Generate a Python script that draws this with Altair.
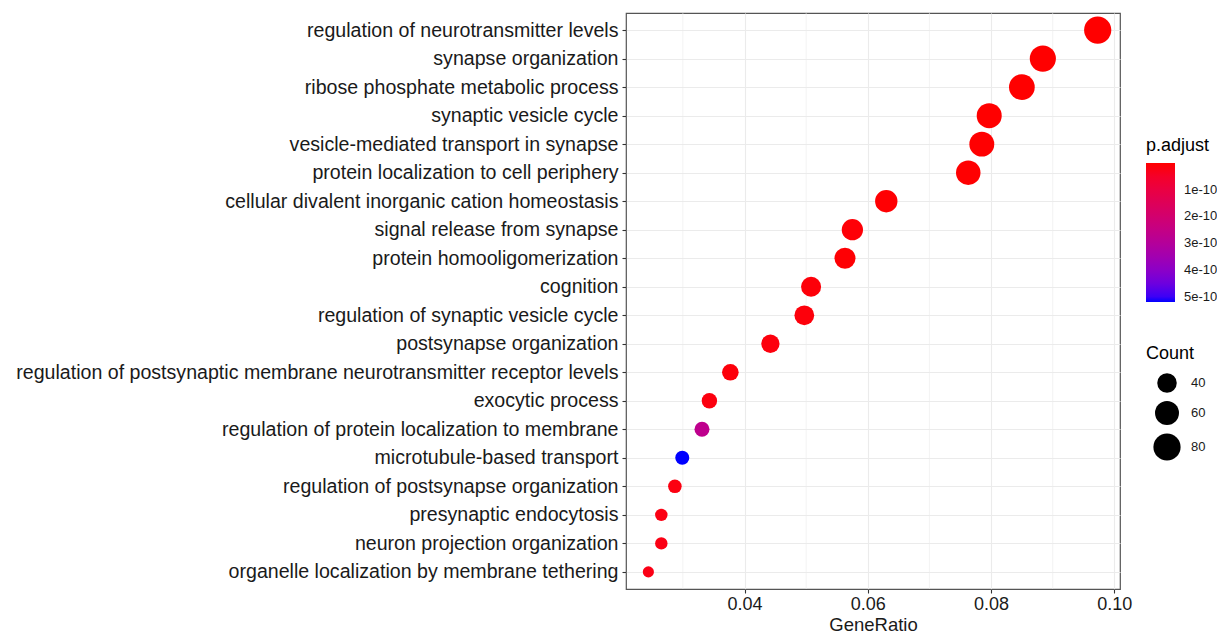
import altair as alt
import pandas as pd

terms = [
    "regulation of neurotransmitter levels",
    "synapse organization",
    "ribose phosphate metabolic process",
    "synaptic vesicle cycle",
    "vesicle-mediated transport in synapse",
    "protein localization to cell periphery",
    "cellular divalent inorganic cation homeostasis",
    "signal release from synapse",
    "protein homooligomerization",
    "cognition",
    "regulation of synaptic vesicle cycle",
    "postsynapse organization",
    "regulation of postsynaptic membrane neurotransmitter receptor levels",
    "exocytic process",
    "regulation of protein localization to membrane",
    "microtubule-based transport",
    "regulation of postsynapse organization",
    "presynaptic endocytosis",
    "neuron projection organization",
    "organelle localization by membrane tethering",
]
gene_ratio = [0.0973, 0.0884, 0.0850, 0.0797, 0.0785, 0.0763, 0.0630, 0.0575, 0.0563, 0.0508,
              0.0497, 0.0442, 0.0377, 0.0343, 0.0331, 0.0299, 0.0287, 0.0265, 0.0265, 0.0244]
counts = [80, 73, 70, 66, 65, 63, 52, 47, 46, 42, 41, 36, 31, 28, 27, 25, 24, 22, 22, 20]
p_adjust = [1.2e-15, 3.5e-14, 2.0e-13, 4.1e-13, 6.0e-13, 1.1e-12, 2.3e-12, 5.5e-12, 3.2e-12, 7.8e-12,
            9.5e-12, 1.1e-11, 9.0e-12, 1.3e-11, 2.7e-10, 5.2e-10, 1.5e-11, 1.7e-11, 1.8e-11, 2.0e-11]
minor_grid = [0.03, 0.05, 0.07, 0.09]
major_ticks = [0.04, 0.06, 0.08, 0.10]
color_ticks = [1e-10, 2e-10, 3e-10, 4e-10, 5e-10]
size_ticks = [40, 60, 80]

df = pd.DataFrame({"Description": terms, "GeneRatio": gene_ratio, "Count": counts, "padj": p_adjust})
grid_df = pd.DataFrame({"GeneRatio": minor_grid})

FONT = "Liberation Sans"
xscale = alt.Scale(domain=[0.02077, 0.10092], nice=False, zero=False)

minor = alt.Chart(grid_df).mark_rule(color="#EBEBEB", strokeWidth=0.6).encode(
    x=alt.X("GeneRatio:Q", scale=xscale)
)

# the gradient legend is drawn with its minimum at the bottom, so the
# colour is keyed on -p.adjust to put the smallest p.adjust (red) on top
points = alt.Chart(df).transform_calculate(
    negp="-datum.padj"
).mark_circle(opacity=1).encode(
    x=alt.X("GeneRatio:Q", scale=xscale,
            axis=alt.Axis(values=major_ticks, format=".2f", title="GeneRatio", grid=True)),
    y=alt.Y("Description:N", sort=None, scale=alt.Scale(type="point", padding=0.6),
            axis=alt.Axis(title=None, grid=True, labelLimit=0)),
    color=alt.Color("negp:Q",
                    scale=alt.Scale(range=["#0000FF", "#FF0000"], interpolate="lab"),
                    legend=alt.Legend(title="p.adjust", values=[-v for v in color_ticks],
                                      labelExpr="format(-datum.value, '.0e')",
                                      gradientLength=139, gradientThickness=29,
                                      labelOffset=9,
                                      orient="none", legendX=520, legendY=124)),
    size=alt.Size("Count:Q",
                  scale=alt.Scale(type="sqrt", domain=[20, 80], range=[125, 740], zero=False),
                  legend=alt.Legend(title="Count", values=size_ticks,
                                    symbolFillColor="black", symbolStrokeWidth=0,
                                    symbolOpacity=1, symbolType="circle",
                                    symbolOffset=7, labelOffset=10, rowPadding=8,
                                    titlePadding=10,
                                    orient="none", legendX=520, legendY=332)),
)

chart = alt.layer(minor, points).properties(
    width=494, height=576,
    autosize=alt.AutoSizeParams(type="none"),
    padding={"left": 618, "top": 5, "right": 97, "bottom": 45},
).configure_view(
    stroke="#555555", strokeWidth=1.2
).configure_axis(
    labelFont=FONT, titleFont=FONT, labelColor="#1a1a1a", titleColor="#1a1a1a",
    domain=False, tickColor="#333333", tickSize=4, tickWidth=1.1,
    gridColor="#EBEBEB", gridWidth=1.1, titleFontWeight="normal",
).configure_axisY(
    labelFontSize=19.6, labelPadding=4,
).configure_axisX(
    labelFontSize=18, titleFontSize=18.5, labelPadding=2, titlePadding=2,
).configure_legend(
    titleFont=FONT, labelFont=FONT, titleFontSize=18, labelFontSize=13,
    titleFontWeight="normal", titleColor="black", labelColor="#1a1a1a",
    titlePadding=8,
)

chart.save("out.html", embed_options={"renderer": "svg", "actions": False})
